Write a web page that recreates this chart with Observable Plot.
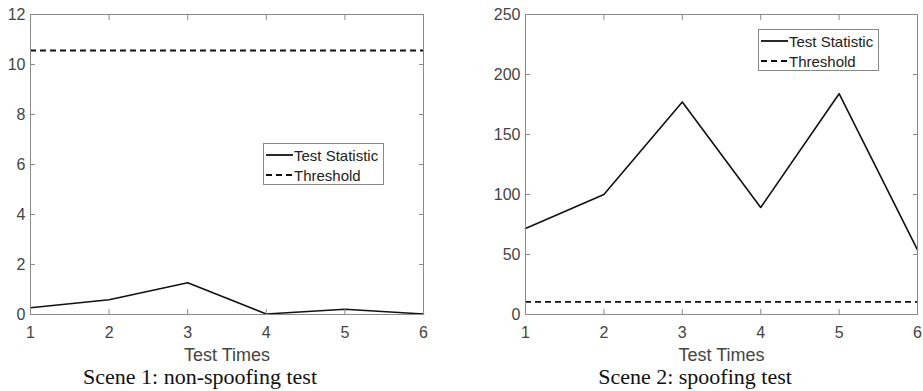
<!DOCTYPE html>
<html><head><meta charset="utf-8">
<script src="https://cdn.jsdelivr.net/npm/d3@7"></script>
<script src="https://cdn.jsdelivr.net/npm/@observablehq/plot@0.6"></script>
<style>
body{margin:0;background:#fff;}
#wrap{position:relative;width:923px;height:391px;overflow:hidden;background:#fff;}
.panel{position:absolute;top:0;}
.caption{position:absolute;top:367px;font-family:"Liberation Serif","Times New Roman",serif;font-size:22px;line-height:20px;color:#111;white-space:nowrap;transform:translateX(-50%);}
.legend{position:absolute;border:1px solid #888;background:#fff;font-family:"Liberation Sans",Arial,sans-serif;font-size:15px;color:#222;box-sizing:border-box;}
.legend .row{position:absolute;left:2px;height:20px;display:flex;align-items:center;white-space:nowrap;}
.legend svg{display:block;margin-right:1px;}
</style></head>
<body>
<div id="wrap"></div>
<script>
const times = [1, 2, 3, 4, 5, 6];
const scene1Stat = [0.27, 0.59, 1.27, 0.02, 0.21, 0.02];
const scene2Stat = [71.7, 100, 177, 89.2, 184, 53.9];
const threshold = 10.56;
const xTicks = [1, 2, 3, 4, 5, 6];
const yTicks1 = [0, 2, 4, 6, 8, 10, 12];
const yTicks2 = [0, 50, 100, 150, 200, 250];
const seriesNames = ["Test Statistic", "Threshold"];
const captions = ["Scene 1: non-spoofing test", "Scene 2: spoofing test"];
const xLabel = "Test Times";

const wrap = document.getElementById("wrap");

function panel({values, yDomain, yTicks, width, marginLeft, marginRight}) {
  const data = times.map((t, i) => ({t, v: values[i]}));
  const grey = "#8a8a8a";
  return Plot.plot({
    width, height: 365, marginLeft, marginRight, marginTop: 14, marginBottom: 51,
    x: {domain: [1, 6]},
    y: {domain: yDomain},
    style: {fontFamily: "'Liberation Sans', Arial, sans-serif", fontSize: "16px", color: "#444", background: "white", overflow: "visible"},
    marks: [
      Plot.ruleY([threshold], {stroke: "#111", strokeWidth: 1.8, strokeDasharray: "6,4"}),
      Plot.line(data, {x: "t", y: "v", stroke: "#111", strokeWidth: 1.6}),
      Plot.frame({stroke: grey}),
      Plot.axisX(xTicks, {anchor: "bottom", tickSize: 0, tickPadding: 12, label: null, fontSize: 16}),
      Plot.axisX(xTicks, {anchor: "bottom", tickSize: -5, text: null, label: null, stroke: grey}),
      Plot.axisX(xTicks, {anchor: "top", tickSize: -5, text: null, label: null, stroke: grey}),
      Plot.axisY(yTicks, {anchor: "left", tickSize: 0, tickPadding: 5, label: null, fontSize: 16}),
      Plot.axisY(yTicks, {anchor: "left", tickSize: -5, text: null, label: null, stroke: grey}),
      Plot.axisY(yTicks, {anchor: "right", tickSize: -5, text: null, label: null, stroke: grey}),
      Plot.text([xLabel], {frameAnchor: "bottom", dy: 34, lineAnchor: "top", fontSize: 18, text: d => d, fill: "#444"})
    ]
  });
}

function legend(left, top) {
  const div = document.createElement("div");
  div.className = "legend";
  Object.assign(div.style, {left: left + "px", top: top + "px", width: "121px", height: "42px"});
  seriesNames.forEach((name, i) => {
    const row = document.createElement("div");
    row.className = "row";
    row.style.top = (i * 20 + 1) + "px";
    const dash = i === 0 ? "" : 'stroke-dasharray="6,4"';
    row.innerHTML = `<svg width="27" height="4"><line x1="0" x2="27" y1="2" y2="2" stroke="#111" stroke-width="1.8" ${dash}/></svg><span>${name}</span>`;
    div.appendChild(row);
  });
  wrap.appendChild(div);
}

function caption(text, center) {
  const d = document.createElement("div");
  d.className = "caption";
  d.style.left = center + "px";
  d.textContent = text;
  wrap.appendChild(d);
}

const p1 = panel({values: scene1Stat, yDomain: [0, 12], yTicks: yTicks1, width: 461, marginLeft: 30, marginRight: 38});
p1.classList.add("panel"); p1.style.left = "0px";
wrap.appendChild(p1);
const p2 = panel({values: scene2Stat, yDomain: [0, 250], yTicks: yTicks2, width: 462, marginLeft: 64, marginRight: 6});
p2.classList.add("panel"); p2.style.left = "461px";
wrap.appendChild(p2);

legend(263, 143);
legend(758, 29);
caption(captions[0], 200);
caption(captions[1], 695);
</script>
</body></html>
